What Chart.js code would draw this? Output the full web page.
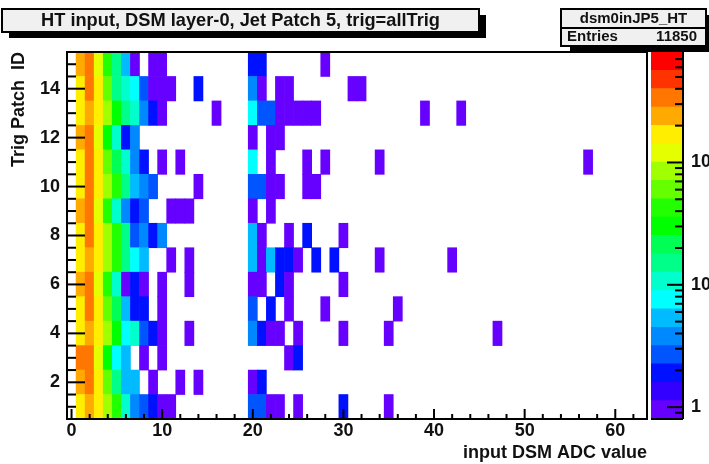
<!DOCTYPE html>
<html><head><meta charset="utf-8">
<script src="https://cdn.jsdelivr.net/npm/chart.js@4/dist/chart.umd.min.js"></script>
<style>html,body{margin:0;padding:0;background:#fff;overflow:hidden}
canvas{position:absolute;left:0;top:0}</style></head>
<body>
<canvas id="main" width="709" height="464"></canvas>
<canvas id="bar" width="709" height="464"></canvas>
<script>
const rowIds = [1,2,3,4,5,6,7,8,9,10,11,12,13,14,15];
const row1  = [[1,170],[2,240],[3,170],[4,85],[5,42],[6,10],[7,4],[8,3],[9,2],[10,1],[11,1],[20,3],[21,3],[22,1],[23,1],[25,1],[30,2],[35,1]];
const row2  = [[1,240],[2,340],[3,170],[4,60],[5,15],[6,5],[7,5],[9,1],[12,1],[14,1],[20,1],[21,2]];
const row3  = [[1,340],[2,340],[3,120],[4,30],[5,7],[6,5],[8,1],[10,1],[24,1],[25,2]];
const row4  = [[1,170],[2,240],[3,170],[4,85],[5,30],[6,7],[7,10],[8,3],[9,2],[10,1],[13,1],[20,4],[21,2],[22,1],[23,1],[25,1],[30,1],[35,1],[47,1]];
const row5  = [[1,170],[2,340],[3,170],[4,60],[5,22],[6,5],[7,2],[8,2],[10,1],[20,3],[22,2],[24,1],[28,1],[36,1]];
const row6  = [[1,240],[2,340],[3,120],[4,42],[5,10],[6,1],[7,2],[8,1],[10,1],[13,1],[20,1],[21,1],[23,2],[24,1],[30,1]];
const row7  = [[1,170],[2,240],[3,170],[4,85],[5,42],[6,15],[7,7],[8,5],[11,1],[13,1],[20,5],[21,1],[22,5],[23,2],[24,2],[25,1],[27,2],[29,2],[34,1],[42,1]];
const row8  = [[1,170],[2,340],[3,170],[4,85],[5,42],[6,15],[7,3],[8,4],[9,2],[10,4],[20,5],[21,1],[24,1],[26,2],[30,1]];
const row9  = [[1,240],[2,340],[3,120],[4,42],[5,10],[6,4],[7,2],[8,3],[11,1],[12,1],[13,1],[20,1],[22,1]];
const row10 = [[1,170],[2,340],[3,170],[4,85],[5,42],[6,15],[7,5],[8,4],[9,3],[14,1],[20,3],[21,3],[22,1],[23,1],[26,1],[27,1]];
const row11 = [[1,170],[2,340],[3,170],[4,60],[5,22],[6,10],[7,4],[8,2],[10,1],[12,1],[20,7],[22,1],[26,1],[28,1],[34,1],[57,1]];
const row12 = [[1,240],[2,340],[3,120],[4,30],[5,10],[6,2],[7,4],[20,1],[22,1],[23,1]];
const row13 = [[1,170],[2,240],[3,170],[4,85],[5,30],[6,15],[7,10],[8,4],[9,2],[10,1],[16,1],[20,7],[21,3],[22,3],[23,1],[24,1],[25,1],[26,1],[27,1],[39,1],[43,1]];
const row14 = [[1,170],[2,340],[3,170],[4,60],[5,15],[6,10],[7,7],[8,3],[9,1],[10,1],[11,1],[14,2],[20,4],[21,1],[23,1],[24,1],[31,1],[32,1]];
const row15 = [[1,240],[2,340],[3,120],[4,42],[5,15],[6,5],[7,1],[9,1],[10,1],[20,2],[21,2],[28,1]];
const rows = [row1,row2,row3,row4,row5,row6,row7,row8,row9,row10,row11,row12,row13,row14,row15];

const xTickValues = [0,2,4,6,8,10,12,14,16,18,20,22,24,26,28,30,32,34,36,38,40,42,44,46,48,50,52,54,56,58,60,62];
const xTickLabels = [0,10,20,30,40,50,60];
const yTickValues = [0.5,1,1.5,2,2.5,3,3.5,4,4.5,5,5.5,6,6.5,7,7.5,8,8.5,9,9.5,10,10.5,11,11.5,12,12.5,13,13.5,14,14.5,15,15.5];
const yTickLabels = [2,4,6,8,10,12,14];
const zTickValues = [0.8,0.9,1,2,3,4,5,6,7,8,9,10,20,30,40,50,60,70,80,90,100,200,300,400,500,600,700];
const zTickLabels = {1:'1',10:'10',100:'10'};
const palette = ['#6600ff','#3300ff','#0011ff','#0055ff','#0088ff','#00bbff','#00ffff','#00ffcc','#00ff88','#00ff55',
                 '#00ff00','#22ff00','#66ff00','#a0ff00','#e6ff00','#ffee00','#ffaa00','#ff7700','#ff3300','#ff0000'];
const logZMin = -0.097, logZMax = 2.903;
const titleText = 'HT input, DSM layer-0, Jet Patch 5, trig=allTrig';
const statsName = 'dsm0inJP5_HT', statsKey = 'Entries', statsVal = '11850';
const BOLD = '"Liberation Sans", Arial, sans-serif';

const level = i => Math.pow(10, logZMin + (logZMax - logZMin) * i / palette.length);
function colorOf(v){
  const i = Math.floor((Math.log10(v) - logZMin) / (logZMax - logZMin) * palette.length);
  return palette[Math.max(0, Math.min(palette.length - 1, i))];
}
const datasets = rows.map((r, k) => ({
  grouped:false, borderWidth:0,
  barPercentage:1, categoryPercentage:1,
  data: r.map(([bin, v]) => ({x:bin, y:[rowIds[k]-0.5, rowIds[k]+0.5]})),
  backgroundColor: r.map(([, v]) => colorOf(v))
}));

function box(ctx,x,y,w,h,sx,sy){
  ctx.fillStyle='#000';
  ctx.fillRect(x+sx,y+sy,w,h);
  ctx.fillStyle='#f0f0f0';
  ctx.fillRect(x,y,w,h);
  ctx.strokeStyle='#000'; ctx.lineWidth=2;
  ctx.strokeRect(x,y,w,h);
}
const mainDecor = {
  id:'mainDecor',
  beforeDraw(c){
    const g=c.ctx; g.save();
    box(g,2,9,477,23,7,6);
    box(g,561,9,145,37,9,6);
    g.fillStyle='#000'; g.fillRect(561,27,145,2);
    g.fillStyle='#111'; g.textBaseline='middle';
    g.font='bold 19px '+BOLD; g.textAlign='center';
    g.fillText(titleText,240.5,21,399);
    g.font='bold 15px '+BOLD;
    g.fillText(statsName,633.5,18.5,108);
    g.textAlign='left';
    g.fillText(statsKey,567,37,51);
    g.textAlign='right';
    g.fillText(statsVal,697,37,41);
    g.restore();
  },
  afterDatasetsDraw(c){
    const g=c.ctx, a=c.chartArea, x=c.scales.x, y=c.scales.y;
    g.save();
    g.strokeStyle='#000'; g.lineWidth=2;
    g.strokeRect(a.left,a.top,a.right-a.left,a.bottom-a.top);
    xTickValues.forEach(v=>{
      const px=x.getPixelForValue(v), L=v%10===0?10:5;
      g.beginPath(); g.moveTo(px,a.bottom); g.lineTo(px,a.bottom-L); g.stroke();
    });
    yTickValues.forEach(v=>{
      const py=y.getPixelForValue(v), L=(v%2===0)?18:9;
      g.beginPath(); g.moveTo(a.left,py); g.lineTo(a.left+L,py); g.stroke();
    });
    g.restore();
  }
};
new Chart(document.getElementById('main'),{
  type:'bar',
  data:{datasets},
  plugins:[mainDecor],
  options:{
    responsive:false, animation:false,
    layout:{padding:{left:0,top:52,right:62,bottom:0}},
    plugins:{legend:{display:false},tooltip:{enabled:false},title:{display:false}},
    scales:{
      x:{type:'linear',min:-0.5,max:63.5,offset:false,
         grid:{display:false,drawTicks:false},border:{display:false},
         afterBuildTicks:s=>{s.ticks=xTickValues.map(v=>({value:v}));},
         afterFit:s=>{s.height=45;},
         ticks:{autoSkip:false,maxRotation:0,color:'#111',padding:1,font:{family:BOLD,size:18,weight:'bold'},
                callback:v=>xTickLabels.includes(v)?String(v):''},
         title:{display:true,text:'input DSM ADC value',align:'end',color:'#111',padding:{top:0,bottom:0},
                font:{family:BOLD,size:18,weight:'bold'}}},
      y:{type:'linear',min:0.5,max:15.5,
         grid:{display:false,drawTicks:false},border:{display:false},
         afterBuildTicks:s=>{s.ticks=yTickValues.map(v=>({value:v}));},
         afterFit:s=>{s.width=67;},
         ticks:{autoSkip:false,color:'#111',padding:7,font:{family:BOLD,size:18,weight:'bold'},
                callback:v=>yTickLabels.includes(v)?String(v):''},
         title:{display:true,text:'Trig Patch  ID',align:'end',color:'#111',padding:{top:8,bottom:0},
                font:{family:BOLD,size:18,weight:'bold'}}}
    }
  }
});

const barDecor = {
  id:'barDecor',
  afterDatasetsDraw(c){
    const g=c.ctx,a=c.chartArea,y=c.scales.y;
    g.save(); g.strokeStyle='#000'; g.lineWidth=2;
    g.beginPath(); g.moveTo(a.right,a.top); g.lineTo(a.right,a.bottom); g.stroke();
    g.beginPath(); g.moveTo(a.left,a.bottom); g.lineTo(a.right,a.bottom); g.stroke();
    zTickValues.forEach(v=>{
      const py=y.getPixelForValue(v), L=zTickLabels[v]?16:8;
      g.beginPath(); g.moveTo(a.right,py); g.lineTo(a.right-L,py); g.stroke();
    });
    g.restore();
  }
};
new Chart(document.getElementById('bar'),{
  type:'bar',
  data:{labels:['z'],datasets:palette.map((col,i)=>({
    grouped:false,borderWidth:0,barPercentage:1,categoryPercentage:1,
    data:[[level(i),level(i+1)]],backgroundColor:col}))},
  plugins:[barDecor],
  options:{
    responsive:false, animation:false,
    layout:{padding:{left:651,top:52,right:0,bottom:45}},
    plugins:{legend:{display:false},tooltip:{enabled:false}},
    scales:{
      x:{display:false},
      y:{type:'logarithmic',position:'right',min:level(0),max:level(palette.length),
         grid:{display:false,drawTicks:false},border:{display:false},
         afterBuildTicks:s=>{s.ticks=zTickValues.map(v=>({value:v}));},
         afterFit:s=>{s.width=26;},
         ticks:{autoSkip:false,color:'#111',padding:8,font:{family:BOLD,size:18,weight:'bold'},
                callback:v=>zTickLabels[v]||''}}
    }
  }
});
</script>
</body></html>
